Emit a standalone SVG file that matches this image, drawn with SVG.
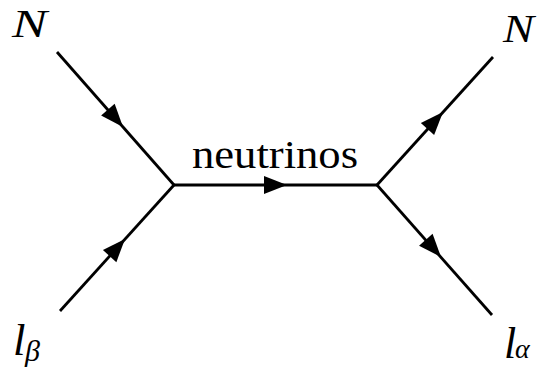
<svg xmlns="http://www.w3.org/2000/svg" width="539" height="370" viewBox="0 0 539 370">
<style>
.ln{stroke:#000;stroke-width:2.8;fill:none;stroke-linecap:butt}
text{font-family:'Liberation Serif','DejaVu Serif',serif;fill:#000}
.it{font-style:italic}
</style>
<defs>
<polygon id="ah" points="0,0 -23,-9 -23,9" fill="#000"/>
</defs>
<rect width="539" height="370" fill="#fff"/>
<g id="connectors">
<line class="ln" x1="57" y1="52" x2="174" y2="185"/>
<line class="ln" x1="60" y1="311" x2="174" y2="185"/>
<line class="ln" x1="174" y1="185" x2="377" y2="185"/>
<line class="ln" x1="377" y1="185" x2="493" y2="57"/>
<line class="ln" x1="377" y1="185" x2="492" y2="315"/>
<use href="#ah" transform="translate(123,127) rotate(48.9)"/>
<use href="#ah" transform="translate(125,239) rotate(-48.1)"/>
<use href="#ah" transform="translate(287,185)"/>
<use href="#ah" transform="translate(443,112) rotate(-47.6)"/>
<use href="#ah" transform="translate(441,257) rotate(48.7)"/>
</g>
<g id="node-N-in"><text class="it" x="12" y="37" font-size="40" textLength="35" lengthAdjust="spacingAndGlyphs">N</text></g>
<g id="node-N-out"><text class="it" x="503" y="42" font-size="40" textLength="31" lengthAdjust="spacingAndGlyphs">N</text></g>
<g id="node-lbeta"><text class="it" x="13" y="355" font-size="45">l<tspan x="25" y="361" font-size="30">β</tspan></text></g>
<g id="node-lalpha"><text class="it" x="504" y="358" font-size="44">l<tspan x="515" y="358" font-size="28">α</tspan></text></g>
<g id="label-neutrinos"><text x="192" y="168" font-size="40" textLength="166" lengthAdjust="spacingAndGlyphs">neutrinos</text></g>
</svg>
